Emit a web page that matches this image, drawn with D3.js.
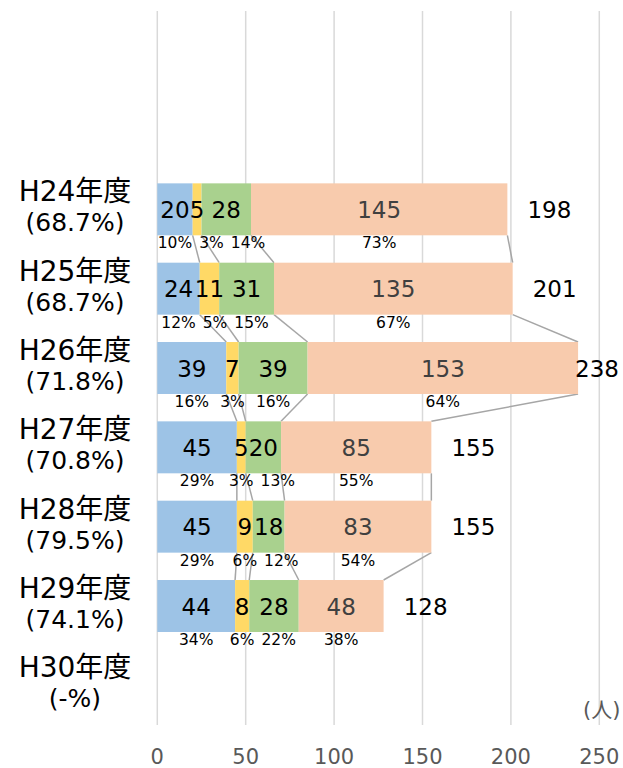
<!DOCTYPE html>
<html>
<head>
<meta charset="utf-8">
<script src="https://cdn.jsdelivr.net/npm/d3@7"></script>
<style>
  body { margin: 0; background: #fff; }
  svg text { font-family: "DejaVu Sans", "Noto Sans CJK JP", sans-serif; }
</style>
</head>
<body>
<svg id="chart"></svg>
<script>
// Data
const years = ['H24年度', 'H25年度', 'H26年度', 'H27年度', 'H28年度', 'H29年度', 'H30年度'];
const rates = ['(68.7%)', '(68.7%)', '(71.8%)', '(70.8%)', '(79.5%)', '(74.1%)', '(-%)'];
const seriesBlue = [20, 24, 39, 45, 45, 44, null];
const seriesYellow = [5, 11, 7, 5, 9, 8, null];
const seriesGreen = [28, 31, 39, 20, 18, 28, null];
const seriesPeach = [145, 135, 153, 85, 83, 48, null];
const xTicks = [0, 50, 100, 150, 200, 250];

const colors = ['#9dc3e6', '#ffd966', '#a9d18e', '#f8cbad'];
const labelColors = ['#000', '#000', '#000', '#404040'];

const width = 623, height = 768;
const plotTop = 11, plotBottom = 725;

const svg = d3.select('#chart')
    .attr('width', width)
    .attr('height', height);

const x = d3.scaleLinear()
    .domain([0, 250])
    .range([157.3, 599.3]);

// 9 slots, the top two are empty
const step = (plotBottom - plotTop) / 9;
const y = d3.scaleBand()
    .domain(years)
    .range([plotTop + 2 * step, plotBottom])
    .paddingInner(0.345)
    .paddingOuter(0.345 / 2);

// Build stacked rows
const rows = years.map((yr, i) => {
  const vals = [seriesBlue[i], seriesYellow[i], seriesGreen[i], seriesPeach[i]];
  if (vals[0] == null) return { year: yr, segs: [], total: null };
  const total = d3.sum(vals);
  let acc = 0;
  const segs = vals.map((v, k) => {
    const s = { k, v, x0: acc, x1: acc + v, pct: Math.round(v / total * 100) };
    acc += v;
    return s;
  });
  return { year: yr, segs, total };
});

// Gridlines
svg.append('g')
  .selectAll('line')
  .data(xTicks)
  .enter().append('line')
    .attr('x1', d => x(d))
    .attr('x2', d => x(d))
    .attr('y1', plotTop)
    .attr('y2', plotBottom)
    .attr('stroke', '#d9d9d9')
    .attr('stroke-width', 1.5);

// Tick labels
svg.append('g')
  .selectAll('text')
  .data(xTicks)
  .enter().append('text')
    .attr('x', d => x(d))
    .attr('y', 764)
    .attr('text-anchor', 'middle')
    .style('font-size', '21px')
    .style('fill', '#595959')
    .text(d => d);

svg.append('text')
    .attr('x', 583)
    .attr('y', 717)
    .style('font-size', '21px')
    .style('fill', '#595959')
    .text('(人)');

// Series connector lines
const conn = svg.append('g');
rows.forEach((r, i) => {
  const next = rows[i + 1];
  if (!next || !r.segs.length || !next.segs.length) return;
  r.segs.forEach((s, k) => {
    conn.append('line')
      .attr('x1', x(s.x1))
      .attr('y1', y(r.year) + y.bandwidth())
      .attr('x2', x(next.segs[k].x1))
      .attr('y2', y(next.year))
      .attr('stroke', '#a6a6a6')
      .attr('stroke-width', 1.5);
  });
});

// Bars
const rowG = svg.append('g')
  .selectAll('g')
  .data(rows)
  .enter().append('g');

rowG.selectAll('rect')
  .data(d => d.segs.map(s => Object.assign({ year: d.year }, s)))
  .enter().append('rect')
    .attr('x', d => x(d.x0))
    .attr('y', d => y(d.year))
    .attr('width', d => x(d.x1) - x(d.x0))
    .attr('height', y.bandwidth())
    .attr('fill', d => colors[d.k]);

// Value labels
rowG.selectAll('text.val')
  .data(d => d.segs.map(s => Object.assign({ year: d.year }, s)))
  .enter().append('text')
    .attr('class', 'val')
    .attr('x', d => (x(d.x0) + x(d.x1)) / 2)
    .attr('y', d => y(d.year) + y.bandwidth() / 2 + 8.5)
    .attr('text-anchor', 'middle')
    .style('font-size', '23px')
    .style('fill', d => labelColors[d.k])
    .text(d => d.v);

// Percent labels, nudged right to avoid overlaps
rows.forEach(r => {
  if (!r.segs.length) return;
  let prevRight = -Infinity;
  r.segs.forEach(s => {
    const t = svg.append('text')
      .attr('y', y(r.year) + y.bandwidth() + 13)
      .attr('text-anchor', 'middle')
      .style('font-size', '15.5px')
      .style('fill', '#000')
      .text(s.pct + '%');
    const w = t.node().getComputedTextLength();
    let cx = (x(s.x0) + x(s.x1)) / 2;
    if (cx - w / 2 < prevRight + 7) cx = prevRight + 7 + w / 2;
    t.attr('x', cx);
    prevRight = cx + w / 2;
  });
});

// Totals
svg.append('g')
  .selectAll('text')
  .data(rows.filter(r => r.total != null))
  .enter().append('text')
    .attr('x', d => Math.min(x(d.total) + 42, 597))
    .attr('y', d => y(d.year) + y.bandwidth() / 2 + 8.5)
    .attr('text-anchor', 'middle')
    .style('font-size', '23px')
    .style('fill', '#000')
    .text(d => d.total);

// Category labels
const cat = svg.append('g')
  .selectAll('g')
  .data(years)
  .enter().append('g');

cat.append('text')
    .attr('x', 75)
    .attr('y', d => y(d) + y.bandwidth() / 2 - 8)
    .attr('text-anchor', 'middle')
    .style('font-size', '28px')
    .style('fill', '#000')
    .text(d => d);

cat.append('text')
    .attr('x', 75)
    .attr('y', d => y(d) + y.bandwidth() / 2 + 22)
    .attr('text-anchor', 'middle')
    .style('font-size', '25px')
    .style('fill', '#000')
    .text((d, i) => rates[i]);
</script>
</body>
</html>
